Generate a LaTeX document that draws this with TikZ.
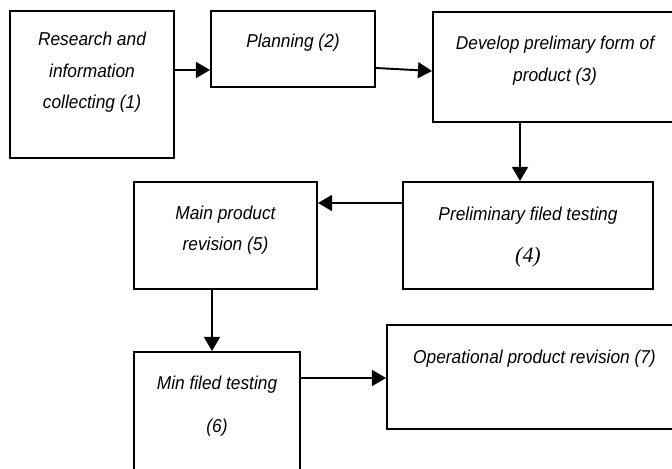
\documentclass[tikz,border=0pt]{standalone}
\usepackage{fontspec}
\setmainfont{Liberation Sans}[FakeStretch=0.93]
\newfontfamily\serifit{Liberation Serif}
\usetikzlibrary{arrows.meta}

\tikzset{
    stage/.style 2 args={draw, line width=1.1pt, minimum width=#1*0.02cm, minimum height=#2*0.02cm, inner sep=0pt},
    stagetext/.style={align=center, inner sep=0pt, font=\fontsize{10.6}{17.9}\selectfont\itshape},
    flow/.style={line width=1.1pt, -{Triangle[length=8pt, width=9pt]}}
}

\begin{document}
\begin{tikzpicture}[x=0.02cm, y=-0.02cm]
        % Page size of the picture (pixels)
        \useasboundingbox (0,0) rectangle (672,469);
        \clip (0,0) rectangle (672,469);

        % Draw the boxes of the stages
        \node[stage={164}{147}] (res) at (92,84.5) {};
        \node[stage={164}{76}] (plan) at (293,49) {};
        \node[stage={244}{110}] (dev) at (555,67) {};
        \node[stage={250}{107}] (pre) at (528,235.5) {};
        \node[stage={183}{107}] (mainrev) at (225.5,235.5) {};
        \node[stage={166}{136}] (minft) at (217,420) {};
        \node[stage={295}{104}] (opr) at (534.5,377) {};

        % Add the text of each stage
        \node[stagetext] (resT) at (res.north |- 0,72.5) {Research and\\information\\collecting (1)};
        \node[stagetext] (planT) at (plan.north |- 0,42.5) {Planning (2)};
        \node[stagetext] (devT) at (dev.north |- 0,60.5) {Develop prelimary form of\\product (3)};
        \node[stagetext] (preT) at (pre.north |- 0,237.5) {Preliminary filed testing\\[6pt]{\serifit\fontsize{12.5}{14}\selectfont(4)}};
        \node[stagetext] (mainrevT) at (mainrev.north |- 0,230) {Main product\\revision (5)};
        \node[stagetext] (minftT) at (minft.north |- 0,406) {Min filed testing\\[6.6pt](6)};
        \node[stagetext] (oprT) at (opr.north |- 0,359) {Operational product revision (7)};

        % Connect the stages
        \draw[flow] (res.east |- 0,70) -- (plan.west |- 0,70);
        \draw[flow] (plan.east |- 0,68) -- (dev.west |- 0,71);
        \draw[flow] (dev.south -| 520,0) -- (pre.north -| 520,0);
        \draw[flow] (pre.west |- 0,203) -- (mainrev.east |- 0,203);
        \draw[flow] (mainrev.south -| 212,0) -- (minft.north -| 212,0);
        \draw[flow] (minft.east |- 0,378) -- (opr.west |- 0,378);
\end{tikzpicture}
\end{document}
